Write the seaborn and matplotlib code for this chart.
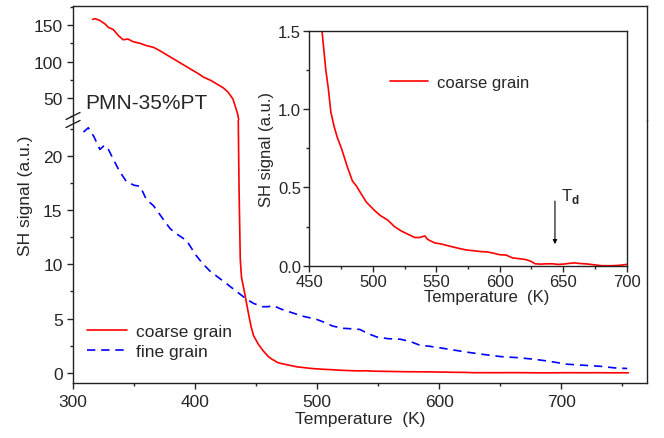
import numpy as np
import pandas as pd
import matplotlib
matplotlib.use("Agg")
import matplotlib.pyplot as plt
import seaborn as sns
from matplotlib.lines import Line2D
from matplotlib.ticker import MultipleLocator

# ---------------- data ----------------
coarse_T = [316, 318, 322, 326, 329, 333, 337, 341, 345, 349, 355, 360, 366, 371, 377,
            385, 390, 396, 402, 407, 413, 418, 423, 427, 431, 433, 435, 436, 437, 438,
            440, 442, 444, 446, 448, 452, 456, 460, 463, 465, 467, 469.5, 472, 475.5, 480, 484,
            487, 490, 495, 501.7, 506, 512, 517, 522.8, 528, 533, 537, 541, 543, 545,
            549, 553, 558, 563, 568, 574, 580, 585, 590, 595, 600, 605, 610, 615, 620,
            624, 628, 632, 637, 642, 646, 650, 655, 659, 663, 667, 670, 675, 680, 688,
            694, 700, 710, 720, 730, 740, 750, 755]
coarse_S = [158, 159, 156.5, 152, 147, 144, 136, 130, 131, 127.5, 125, 122, 119.5, 115, 109,
            101, 96, 90, 84, 78.5, 74, 69, 64, 58, 48.5, 38, 27, 17, 10.5, 8.8,
            7.7, 6.5, 5.3, 4.2, 3.4, 2.6, 2.0, 1.5, 1.25, 1.13, 0.98, 0.89, 0.82, 0.745, 0.63, 0.54,
            0.51, 0.47, 0.405, 0.35, 0.32, 0.29, 0.25, 0.22, 0.2, 0.18, 0.18, 0.19, 0.17, 0.16,
            0.145, 0.14, 0.13, 0.12, 0.11, 0.10, 0.095, 0.09, 0.088, 0.08, 0.07, 0.068, 0.05, 0.045, 0.04,
            0.03, 0.012, 0.01, 0.012, 0.012, 0.008, 0.01, 0.015, 0.018, 0.014, 0.012, 0.01, 0.005, 0.0, 0.0,
            0.002, 0.008, 0.01, 0.005, 0.01, 0.0, 0.005, 0.0]

fine_T = [308.5, 312.5, 317, 322, 325, 327.6, 333, 338, 344, 350, 355, 360, 366, 373, 379.5,
          385, 393, 401, 406, 412, 419, 426, 434, 442, 448, 455, 460, 464, 470, 475,
          482, 489, 499, 506, 513, 522, 530, 535, 542, 549, 558, 568, 576, 584, 592,
          601, 612, 623, 636, 650, 664, 678, 691, 704, 718, 732, 744, 754]
fine_S = [22.2, 22.6, 21.8, 20.6, 20.9, 20.9, 19.7, 18.6, 17.6, 17.3, 17.2, 16.0, 15.4, 14.3, 13.3,
          12.8, 12.2, 10.8, 10.1, 9.4, 8.8, 8.2, 7.5, 6.8, 6.4, 6.1, 6.1, 6.2, 5.9, 5.7,
          5.45, 5.2, 4.95, 4.65, 4.3, 4.1, 4.05, 4.0, 3.6, 3.3, 3.15, 3.1, 2.9, 2.55, 2.45,
          2.3, 2.1, 1.9, 1.7, 1.5, 1.4, 1.25, 1.05, 0.8, 0.7, 0.6, 0.45, 0.4]

x_ticks_main = [300, 400, 500, 600, 700]
y_ticks_low = [0, 5, 10, 15, 20]
y_ticks_up = [50, 100, 150]
x_ticks_inset = [450, 500, 550, 600, 650, 700]
y_ticks_inset = [0.0, 0.5, 1.0, 1.5]

coarse_df = pd.DataFrame({"T": coarse_T, "S": coarse_S})
fine_df = pd.DataFrame({"T": fine_T, "S": fine_S})

# ---------------- style ----------------
sns.set_style("ticks")
plt.rcParams["font.family"] = ["Liberation Sans", "DejaVu Sans"]
plt.rcParams["mathtext.fontset"] = "custom"
plt.rcParams["mathtext.rm"] = "Liberation Sans"
plt.rcParams["mathtext.bf"] = "Liberation Sans:bold"
plt.rcParams["axes.linewidth"] = 1.0
plt.rcParams["axes.edgecolor"] = "#222222"

RED = "#ff0000"
BLUE = "#0000ff"
FS = 12.5
DASH = (0, (5, 3.5))

fig = plt.figure(figsize=(6.64, 4.39), dpi=100)
ax_low = fig.add_axes([0.110, 0.125, 0.864, 0.599])
ax_up = fig.add_axes([0.110, 0.7244, 0.864, 0.259], sharex=ax_low)
ax_in = fig.add_axes([0.4658, 0.3925, 0.478, 0.5353])

# lower panel: both series
sns.lineplot(data=coarse_df, x="T", y="S", ax=ax_low, sort=False, estimator=None,
             color=RED, lw=1.2, legend=False)
sns.lineplot(data=fine_df, x="T", y="S", ax=ax_low, sort=False, estimator=None,
             color=BLUE, lw=1.2, legend=False)
ax_low.lines[-1].set_linestyle(DASH)
# upper panel: only the coarse grain reaches it
sns.lineplot(data=coarse_df, x="T", y="S", ax=ax_up, sort=False, estimator=None,
             color=RED, lw=1.2, legend=False)

ax_low.set_xlim(300, 770)
ax_low.set_ylim(-0.95, 23.3)
ax_up.set_ylim(19.7, 176)

ax_low.set_xticks(x_ticks_main)
ax_low.xaxis.set_minor_locator(MultipleLocator(50))
ax_low.set_yticks(y_ticks_low)
ax_low.yaxis.set_minor_locator(MultipleLocator(2.5))
ax_up.set_yticks(y_ticks_up)
ax_up.yaxis.set_minor_locator(MultipleLocator(25))

for ax in (ax_low, ax_up):
    ax.tick_params(axis="both", which="major", direction="out", length=4.5, width=1.0,
                   labelsize=FS, pad=3)
    ax.tick_params(axis="both", which="minor", direction="out", length=2.5, width=1.0)
    ax.tick_params(right=False, top=False, which="both")
    ax.set_xlabel("")
    ax.set_ylabel("")

ax_up.spines["bottom"].set_visible(False)
ax_up.tick_params(axis="x", which="both", bottom=False, labelbottom=False)
ax_low.spines["top"].set_visible(False)
ax_up.spines["top"].set_visible(True)
ax_up.spines["right"].set_visible(True)
ax_low.spines["right"].set_visible(True)

ax_low.set_xlabel("Temperature  (K)", fontsize=FS, labelpad=2)
fig.text(0.039, 0.553, "SH signal (a.u.)", rotation=90, ha="center", va="center",
         fontsize=FS)

ax_up.text(0.022, 0.15, "PMN-35%PT", transform=ax_up.transAxes, fontsize=15,
           ha="left", va="center")

# break marks
for dy in (-4, 4):
    y0 = 439 - 121 + dy
    fig.add_artist(Line2D([66 / 664, 80 / 664], [(y0 - 3.5) / 439, (y0 + 3.5) / 439],
                          color="#222222", lw=1.0))

handles = [Line2D([], [], color=RED, lw=1.2),
           Line2D([], [], color=BLUE, lw=1.2, ls=DASH)]
ax_low.legend(handles, ["coarse grain", "fine grain"], loc="lower left",
              bbox_to_anchor=(0.024, 0.09), frameon=False, fontsize=FS,
              handlelength=2.3, handletextpad=0.55, labelspacing=0.3,
              borderpad=0, borderaxespad=0)

# ---------------- inset ----------------
sns.lineplot(data=coarse_df, x="T", y="S", ax=ax_in, sort=False, estimator=None,
             color=RED, lw=1.2, legend=False)
ax_in.set_xlim(450, 700)
ax_in.set_ylim(0, 1.5)
ax_in.set_xticks(x_ticks_inset)
ax_in.xaxis.set_minor_locator(MultipleLocator(25))
ax_in.set_yticks(y_ticks_inset)
ax_in.yaxis.set_minor_locator(MultipleLocator(0.25))
ax_in.set_xticklabels([str(v) for v in x_ticks_inset])
ax_in.set_yticklabels(["0.0", "0.5", "1.0", "1.5"])
ax_in.tick_params(axis="both", which="major", direction="out", length=4, width=1.0,
                  labelsize=12, pad=2)
ax_in.tick_params(axis="both", which="minor", direction="out", length=2, width=1.0)
ax_in.tick_params(right=False, top=False, which="both")
for s in ax_in.spines.values():
    s.set_visible(True)
ax_in.set_xlabel("Temperature  (K)", fontsize=12, labelpad=1)
ax_in.set_ylabel("SH signal (a.u.)", fontsize=12, labelpad=3)
ax_in.xaxis.set_label_coords(0.56, -0.1)
ax_in.legend([Line2D([], [], color=RED, lw=1.2)], ["coarse grain"], loc="center left",
             bbox_to_anchor=(0.254, 0.78), frameon=False, fontsize=12,
             handlelength=2.3, handletextpad=0.55, borderpad=0, borderaxespad=0)

ax_in.annotate("", xy=(643.5, 0.12), xytext=(643.5, 0.43),
               arrowprops=dict(arrowstyle="-|>", color="black", lw=0.8,
                               mutation_scale=6))
ax_in.text(648, 0.45, r"T$_{\mathbf{d}}$", fontsize=12, ha="left", va="center")

fig.savefig("out.png", dpi=100)
